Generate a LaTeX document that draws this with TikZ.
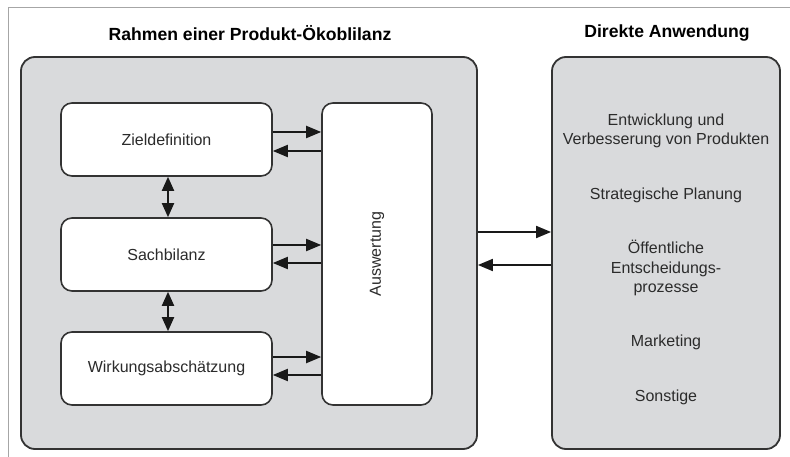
\documentclass[tikz,border=0pt]{standalone}
\usepackage{fontspec}
\setmainfont{Liberation Sans}
\usetikzlibrary{arrows.meta}
\definecolor{panelgray}{HTML}{D9DADC}
\definecolor{edgegray}{HTML}{333333}
\definecolor{inkgray}{HTML}{2B2B2B}
\definecolor{framegray}{HTML}{A6A6A6}
\tikzset{
  panel/.style={draw=edgegray, line width=1.8pt, fill=panelgray, rounded corners=14pt, inner sep=0pt},
  stage/.style={draw=edgegray, line width=1.6pt, fill=white, rounded corners=11pt, inner sep=0pt,
    text=inkgray, font=\fontsize{16}{19}\selectfont},
  heading/.style={text=black, font=\fontsize{17.6}{21}\selectfont\bfseries},
  useitem/.style={text=inkgray, align=center, font=\fontsize{16}{19.5}\selectfont},
  arr/.style={draw=black!90, line width=1.9pt, -{Triangle[length=15pt,width=12pt]}},
  dbl/.style={draw=black!90, line width=1.9pt, {Triangle[length=14pt,width=12pt]}-{Triangle[length=14pt,width=12pt]}}
}
\begin{document}
\begin{tikzpicture}[x=1pt,y=-1pt]
  \useasboundingbox (0,0) rectangle (790,457);
  % thin outer frame (top and left edges)
  \draw[framegray, line width=1pt] (8,457) -- (8,8) -- (790,8);

  % headings
  \node[heading] (h1) at (250,33) {Rahmen einer Produkt-Ökoblilanz};
  \node[heading] (h2) at (667,33) {Direkte Anwendung};

  % two panels
  \node[panel, minimum width=456pt, minimum height=392pt] (lp) at (249,253) {};
  \node[panel, minimum width=228pt, minimum height=392pt] (rp) at (666,253) {};

  % phases of the LCA framework
  \node[stage, minimum width=211pt, minimum height=73pt] (zd) at (166.5,139.5) {Zieldefinition};
  \node[stage, minimum width=211pt, minimum height=73pt] (sb) at (166.5,254.5) {Sachbilanz};
  \node[stage, minimum width=211pt, minimum height=73pt] (wa) at (166.5,368.5) {Wirkungsabschätzung};
  \node[stage, minimum width=110pt, minimum height=302pt] (aw) at (377,254) {};
  \node[text=inkgray, font=\fontsize{16}{19}\selectfont, rotate=90] (awt) at (aw.center) {Auswertung};

  % exchange with the evaluation phase
  \draw[arr] ([yshift=7.5pt]zd.east) -- ([yshift=7.5pt]zd.east -| aw.west);
  \draw[arr] ([yshift=-11.5pt]zd.east -| aw.west) -- ([yshift=-11.5pt]zd.east);
  \draw[arr] ([yshift=9.5pt]sb.east) -- ([yshift=9.5pt]sb.east -| aw.west);
  \draw[arr] ([yshift=-8.5pt]sb.east -| aw.west) -- ([yshift=-8.5pt]sb.east);
  \draw[arr] ([yshift=11.5pt]wa.east) -- ([yshift=11.5pt]wa.east -| aw.west);
  \draw[arr] ([yshift=-6.5pt]wa.east -| aw.west) -- ([yshift=-6.5pt]wa.east);

  % links between consecutive phases
  \draw[dbl] ([xshift=1.5pt]zd.south) -- ([xshift=1.5pt]sb.north);
  \draw[dbl] ([xshift=1.5pt]sb.south) -- ([xshift=1.5pt]wa.north);

  % exchange with direct applications
  \draw[arr] ([yshift=21pt]lp.east) -- ([yshift=21pt]lp.east -| rp.west);
  \draw[arr] ([yshift=-12pt]lp.east -| rp.west) -- ([yshift=-12pt]lp.east);

  % applications
  \node[useitem] (u1) at (666,131) {Entwicklung und\\Verbesserung von Produkten};
  \node[useitem] (u2) at (666,195) {Strategische Planung};
  \node[useitem] (u3) at (666,268) {Öffentliche\\Entscheidungs-\\prozesse};
  \node[useitem] (u4) at (666,342) {Marketing};
  \node[useitem] (u5) at (666,397) {Sonstige};
\end{tikzpicture}
\end{document}
